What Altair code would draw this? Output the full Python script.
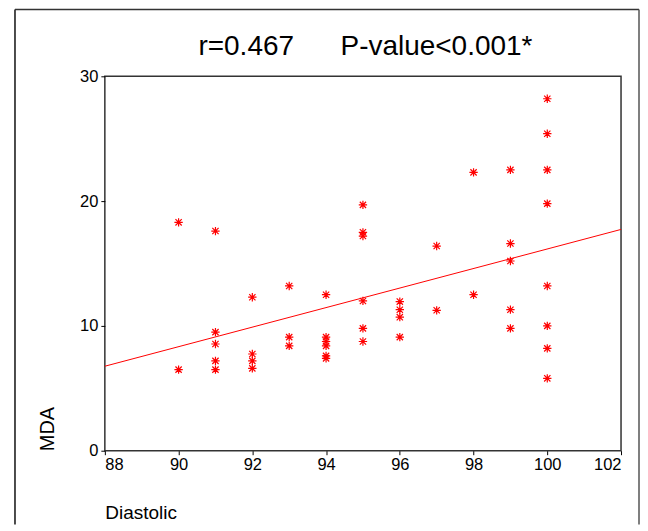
import altair as alt
import pandas as pd

# Data
diastolic = [90, 90,
             91, 91, 91, 91, 91,
             92, 92, 92, 92,
             93, 93, 93,
             94, 94, 94, 94, 94, 94,
             95, 95, 95, 95, 95, 95,
             96, 96, 96, 96,
             97, 97,
             98, 98,
             99, 99, 99, 99, 99,
             100, 100, 100, 100, 100, 100, 100, 100]
mda = [18.3, 6.5,
       17.6, 9.5, 8.55, 7.2, 6.5,
       12.3, 7.75, 7.2, 6.6,
       13.2, 9.1, 8.4,
       12.5, 9.1, 8.75, 8.4, 7.6, 7.4,
       19.7, 17.5, 17.2, 12.0, 9.8, 8.75,
       11.95, 11.3, 10.7, 9.1,
       16.4, 11.25,
       22.3, 12.5,
       22.5, 16.6, 15.2, 11.3, 9.8,
       28.2, 25.4, 22.5, 19.8, 13.2, 10.0, 8.2, 5.8]

x_ticks = [88, 90, 92, 94, 96, 98, 100, 102]
y_ticks = [0, 10, 20, 30]
title_text = "r=0.467\u00a0\u00a0\u00a0\u00a0\u00a0\u00a0P-value<0.001*"

df = pd.DataFrame({"Diastolic": diastolic, "MDA": mda})

FONT = "Liberation Sans"
RED = "#ff0000"
ASTERISK = "M0,-1L0,1M-1,0L1,0M-0.75,-0.75L0.75,0.75M-0.75,0.75L0.75,-0.75"

xscale = alt.Scale(domain=[88, 102], nice=False, zero=False)
yscale = alt.Scale(domain=[0, 30], nice=False)

xaxis = alt.Axis(values=x_ticks, grid=False, domain=False, tickSize=4,
                 tickColor="#000", labelFontSize=16.5, labelFont=FONT,
                 labelColor="#000", labelPadding=2, title="Diastolic",
                 titleAnchor="start", titleFontSize=19, titleFont=FONT,
                 titleFontWeight="normal", titleColor="#000", titlePadding=30)
yaxis = alt.Axis(values=y_ticks, grid=False, domain=False, tickSize=4,
                 tickColor="#000", labelFontSize=16.5, labelFont=FONT,
                 labelColor="#000", labelPadding=3, title="MDA",
                 titleAnchor="start", titleFontSize=20, titleFont=FONT,
                 titleFontWeight="normal", titleColor="#000", titlePadding=22)

base = alt.Chart(df)

points = base.mark_point(shape=ASTERISK, filled=False, color=RED,
                         strokeWidth=1.2, size=70, opacity=1).encode(
    x=alt.X("Diastolic:Q", scale=xscale, axis=xaxis),
    y=alt.Y("MDA:Q", scale=yscale, axis=yaxis),
)

fit = base.transform_regression("Diastolic", "MDA", extent=[88, 102]).mark_line(
    color=RED, strokeWidth=1).encode(
    x=alt.X("Diastolic:Q", scale=xscale),
    y=alt.Y("MDA:Q", scale=yscale),
)

deco = alt.Chart(pd.DataFrame({"t": [title_text]}))

# outer picture frame (open at the bottom, as in the cropped reference)
frame_left = deco.mark_rule(color="#111", strokeWidth=1.5).encode(
    x=alt.value(-90), y=alt.value(-67), y2=alt.value(449))
frame_top = deco.mark_rule(color="#333", strokeWidth=1.5).encode(
    x=alt.value(-90), x2=alt.value(535), y=alt.value(-67))
frame_right = deco.mark_rule(color="#555", strokeWidth=1.5).encode(
    x=alt.value(535), y=alt.value(-67), y2=alt.value(449))

title = deco.mark_text(font=FONT, fontSize=28, color="#000", align="center",
                       baseline="alphabetic").encode(
    text="t:N", x=alt.value(261), y=alt.value(-21)
)

chart = alt.layer(frame_left, frame_top, frame_right, title, fit, points).properties(
    width=517, height=375,
    background="white",
    padding={"left": 6, "top": 0, "right": 0, "bottom": 0},
).configure_view(stroke="#333", strokeWidth=1.5)

chart.save("out.html", embed_options={"renderer": "svg", "actions": False})
